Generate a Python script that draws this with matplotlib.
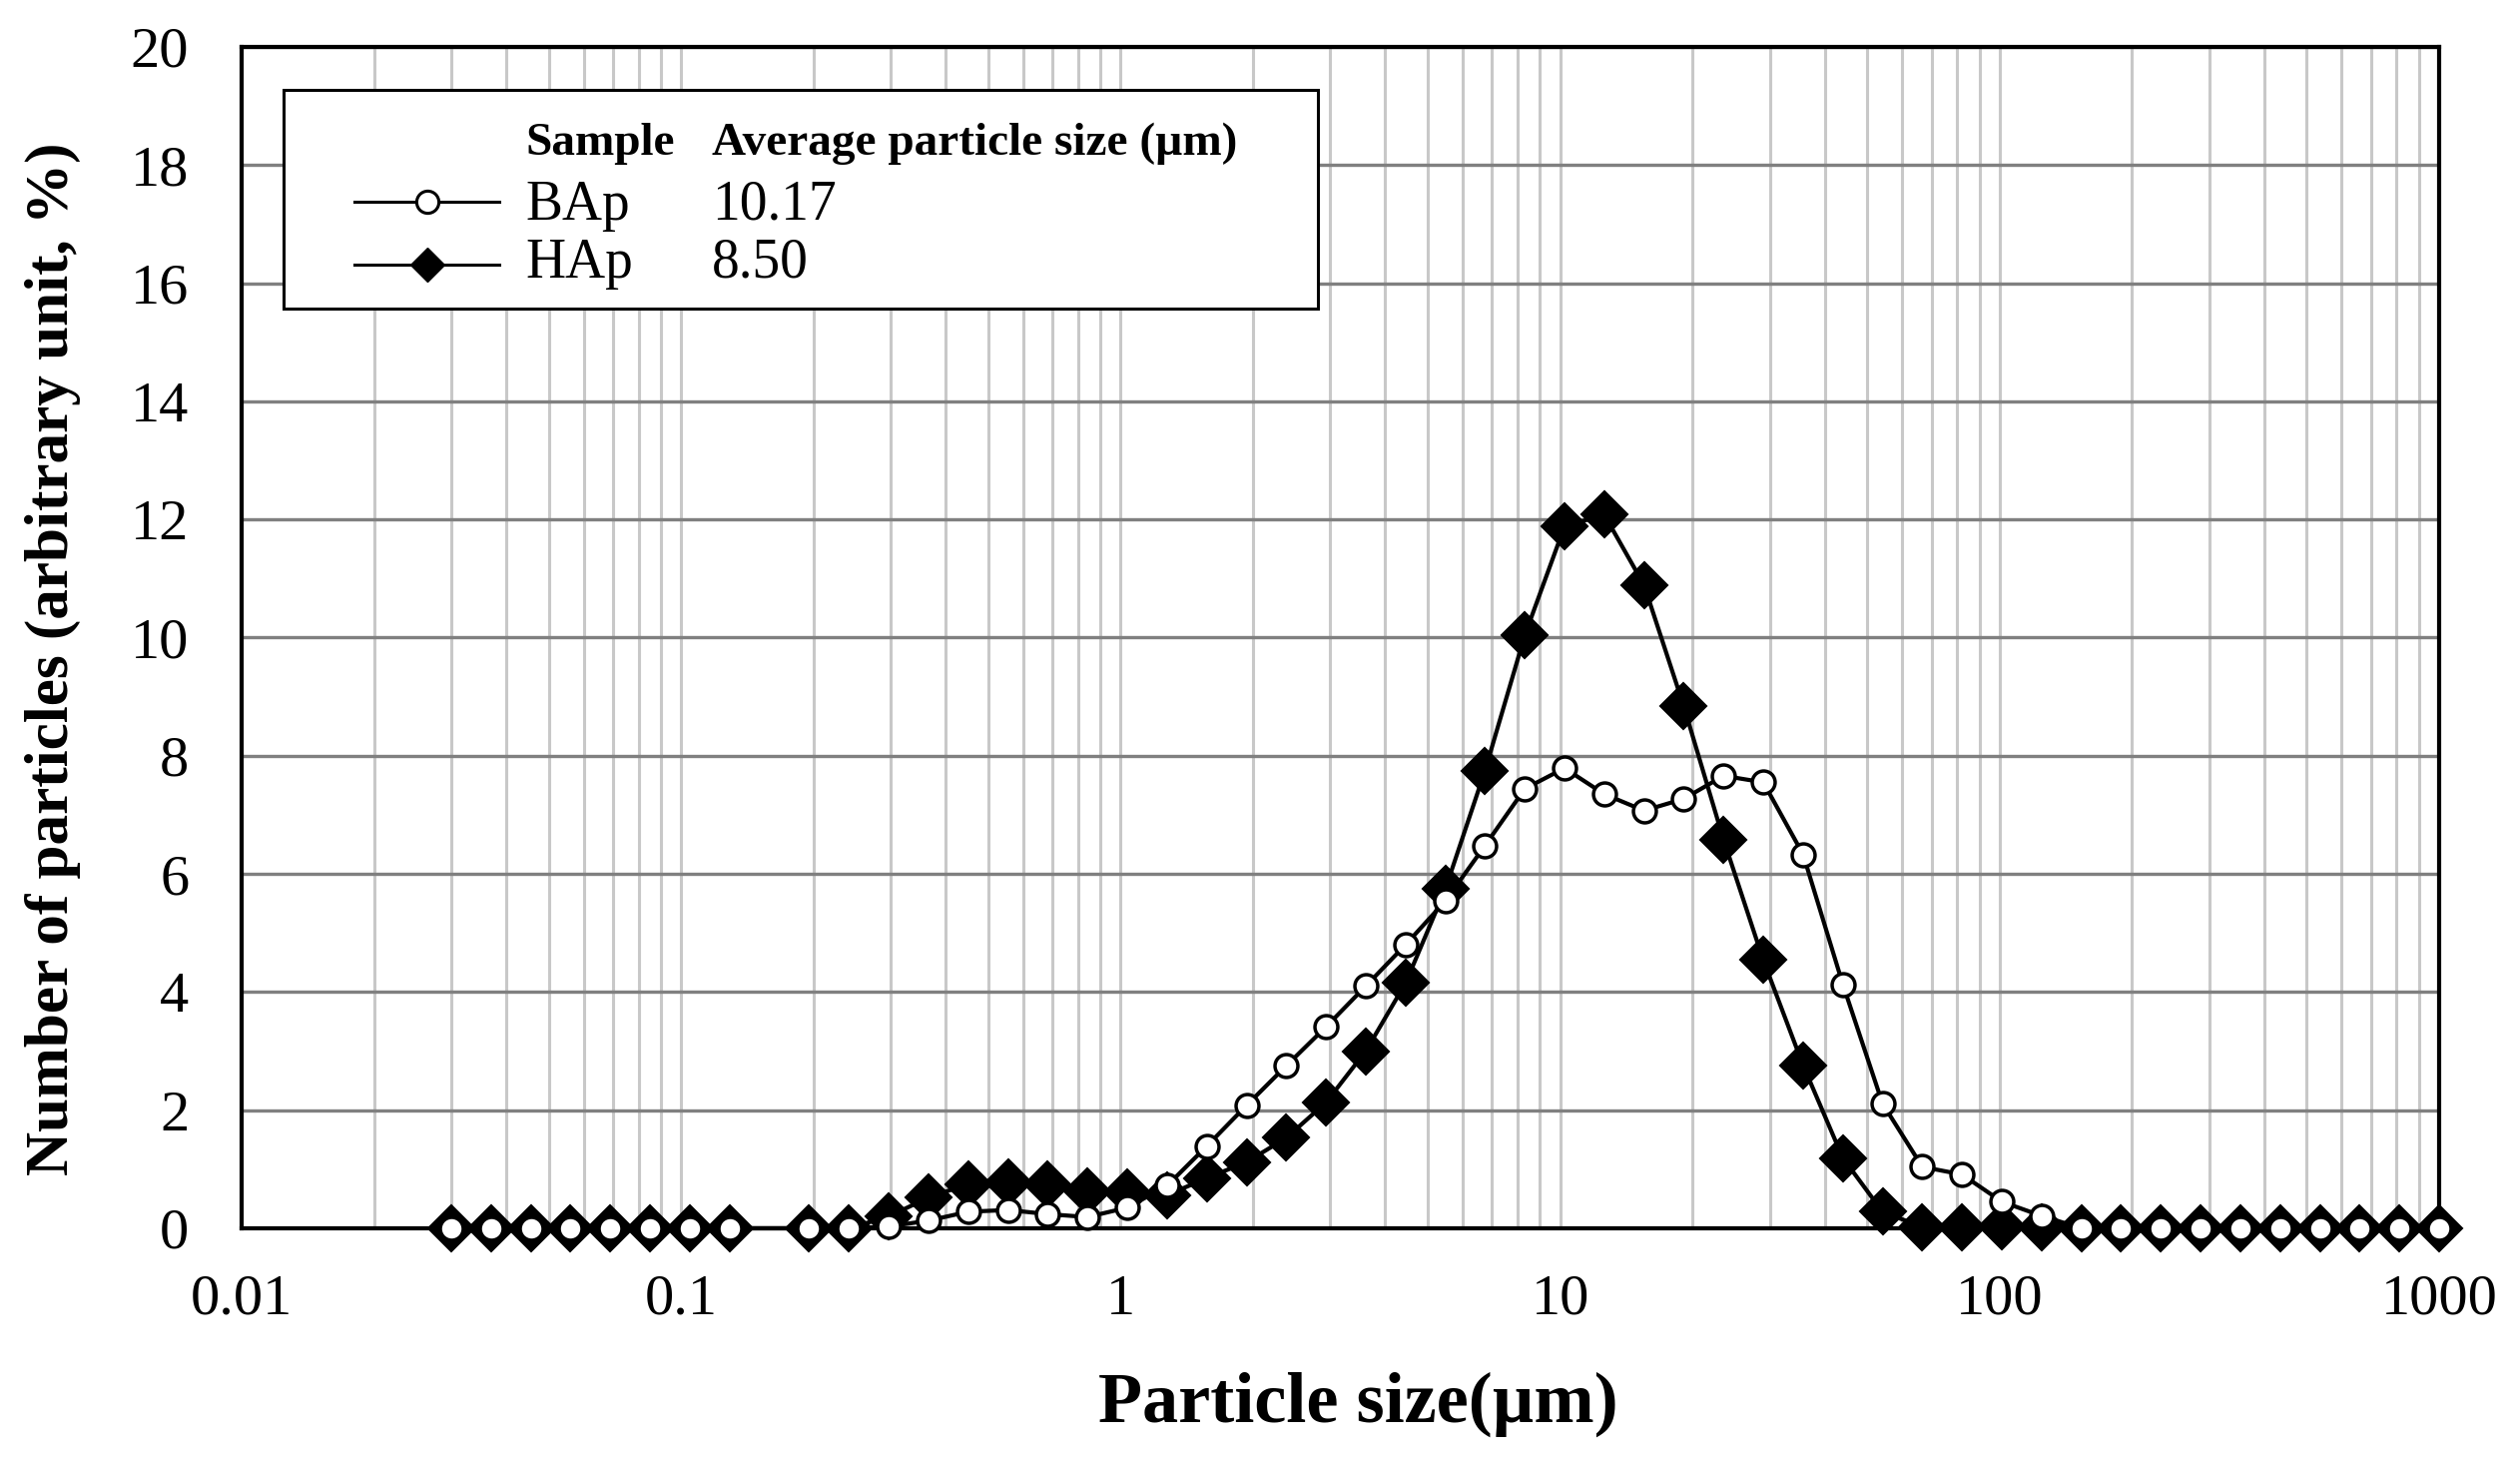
import matplotlib
matplotlib.use("Agg")
import matplotlib.pyplot as plt
from matplotlib.lines import Line2D
from matplotlib.patches import Rectangle
from matplotlib.ticker import FixedLocator, FixedFormatter, LogLocator, NullFormatter

plt.rcParams['font.family'] = ['Liberation Serif', 'DejaVu Serif']

# ---------------- data ----------------
particle_size = [0.0300, 0.0369, 0.0455, 0.0560, 0.0690, 0.0850, 0.1047, 0.1289,
                 0.1956, 0.2409, 0.2966, 0.3653, 0.4498, 0.5540, 0.6823, 0.8404,
                 1.035, 1.275, 1.570, 1.934, 2.381, 2.933, 3.612, 4.449, 5.479,
                 6.748, 8.310, 10.23, 12.60, 15.52, 19.11, 23.54, 28.99, 35.71,
                 43.98, 54.16, 66.70, 82.15, 101.2, 124.6, 153.5, 189.0, 232.8,
                 286.7, 353.1, 434.9, 535.6, 659.6, 812.4, 1000.0]

hap = [0, 0, 0, 0, 0, 0, 0, 0,
       0, 0, 0.20, 0.52, 0.75, 0.78, 0.74, 0.62,
       0.61, 0.56, 0.85, 1.12, 1.53, 2.13, 3.00, 4.15, 5.74,
       7.75, 10.04, 11.88, 12.08, 10.89, 8.84, 6.58, 4.54, 2.76,
       1.19, 0.28, 0.02, 0.02, 0.03, 0.02, 0, 0, 0,
       0, 0, 0, 0, 0, 0, 0]

bap = [0, 0, 0, 0, 0, 0, 0, 0,
       0, 0, 0.03, 0.13, 0.28, 0.31, 0.24, 0.19,
       0.35, 0.72, 1.39, 2.08, 2.75, 3.41, 4.10, 4.80, 5.54,
       6.48, 7.44, 7.79, 7.35, 7.07, 7.27, 7.66, 7.55, 6.33,
       4.13, 2.11, 1.04, 0.91, 0.45, 0.21, 0, 0, 0,
       0, 0, 0, 0, 0, 0, 0]

samples = ["BAp", "HAp"]
avg_sizes = ["10.17", "8.50"]
x_ticks = [0.01, 0.1, 1, 10, 100, 1000]
x_tick_labels = ["0.01", "0.1", "1", "10", "100", "1000"]
y_ticks = [0, 2, 4, 6, 8, 10, 12, 14, 16, 18, 20]

# ---------------- figure ----------------
fig = plt.figure(figsize=(25.24, 14.66), dpi=100)
ax = fig.add_axes([0.0959, 0.161, 0.872, 0.807])

ax.set_xscale('log')
ax.set_xlim(0.01, 1000)
ax.set_ylim(0, 20)

# grid
ax.xaxis.set_major_locator(FixedLocator(x_ticks))
ax.xaxis.set_major_formatter(FixedFormatter(x_tick_labels))
ax.xaxis.set_minor_locator(LogLocator(base=10, subs=range(2, 10)))
ax.xaxis.set_minor_formatter(NullFormatter())
ax.set_yticks(y_ticks)
ax.grid(True, which='major', axis='x', color='#c8c8c8', linewidth=2.2)
ax.grid(True, which='minor', axis='x', color='#c8c8c8', linewidth=2.2)
ax.grid(True, which='major', axis='y', color='#808080', linewidth=2.4)
ax.set_axisbelow(True)

for s in ax.spines.values():
    s.set_linewidth(3)
    s.set_color('black')

ax.tick_params(axis='both', which='both', length=0, labelsize=42)
ax.tick_params(axis='x', pad=33)
ax.tick_params(axis='y', pad=38)

# data lines
l_hap, = ax.plot(particle_size, hap, color='black', linewidth=3.0, marker='D',
                 markersize=23, markerfacecolor='black', markeredgecolor='black',
                 markeredgewidth=1.5, zorder=3, clip_on=False)
l_bap, = ax.plot(particle_size, bap, color='black', linewidth=3.0, marker='o',
                 markersize=16.5, markerfacecolor='white', markeredgecolor='black',
                 markeredgewidth=2.5, zorder=4, clip_on=False)

ax.set_xlabel("Particle size(µm)", fontsize=52, fontweight='bold', va='top')
ax.xaxis.set_label_coords(0.508, -0.121)
ax.set_ylabel("Number of particles (arbitrary unit, %)", fontsize=44,
              fontweight='bold')
ax.yaxis.set_label_coords(-0.0732, 0.482)

# ---------------- legend (table style) ----------------
box = Rectangle((0.019, 0.7785), 0.4706, 0.1852, transform=ax.transAxes,
                facecolor='white', edgecolor='black', linewidth=2.2, zorder=6)
ax.add_patch(box)

tx1, tx2 = 0.1294, 0.2139
ax.text(tx1, 0.9087, "Sample", transform=ax.transAxes, fontsize=34,
        fontweight='bold', va='baseline', ha='left', zorder=7)
ax.text(tx2, 0.9087, "Average particle size (µm)", transform=ax.transAxes,
        fontsize=34, fontweight='bold', va='baseline', ha='left', zorder=7)

row_base = [0.8538, 0.8047]
row_line = [0.869, 0.8157]
styles = [dict(marker='o', markersize=16, markerfacecolor='white',
               markeredgecolor='black', markeredgewidth=2.2),
          dict(marker='D', markersize=17, markerfacecolor='black',
               markeredgecolor='black', markeredgewidth=1.0)]
for name, avg, yb, yl, st in zip(samples, avg_sizes, row_base, row_line, styles):
    ax.add_line(Line2D([0.0513, 0.1172], [yl, yl], transform=ax.transAxes,
                       color='black', linewidth=2.2, zorder=7))
    ax.add_line(Line2D([0.0845], [yl], transform=ax.transAxes, linestyle='none',
                       zorder=8, **st))
    ax.text(tx1, yb, name, transform=ax.transAxes, fontsize=40,
            va='baseline', ha='left', zorder=7)
    ax.text(tx2, yb, avg, transform=ax.transAxes, fontsize=40,
            va='baseline', ha='left', zorder=7)

fig.savefig("out.png", dpi=100, facecolor='white')
